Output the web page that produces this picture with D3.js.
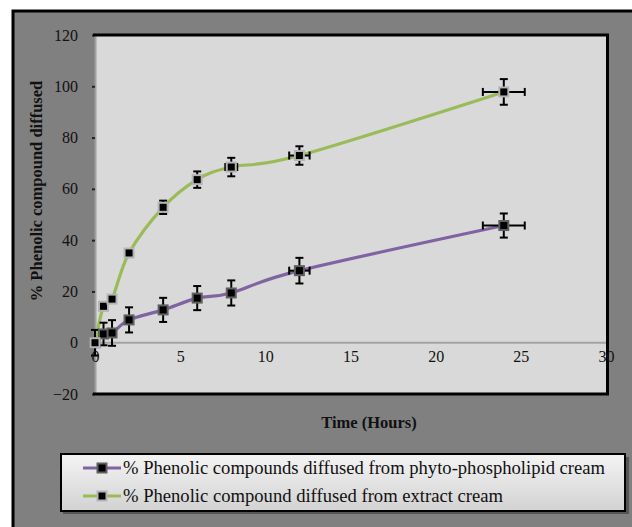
<!DOCTYPE html>
<html><head><meta charset="utf-8">
<script src="https://cdn.jsdelivr.net/npm/d3@7"></script>
<style>
html,body{margin:0;padding:0;background:#fff;}
svg{display:block;}
</style></head>
<body>
<script>
// ---- data ----
const hours = [0, 0.5, 1, 2, 4, 6, 8, 12, 24];
const phytoValues = [0, 3.4, 3.8, 8.9, 12.8, 17.4, 19.4, 28.1, 45.7];
const phytoErrY   = [5, 4.4, 5, 4.9, 4.7, 4.7, 4.9, 5, 4.7];
const phytoErrX   = [0, 0, 0, 0, 0, 0, 0, 0.6, 1.23];
const extractValues = [0, 14.2, 17.0, 35.0, 52.8, 63.6, 68.5, 73.0, 97.8];
const extractErrY   = [0, 0, 0, 0, 2.6, 3.2, 3.6, 3.6, 5];
const extractErrX   = [0, 0, 0, 0, 0, 0, 0.35, 0.6, 1.23];
const seriesNames = ["% Phenolic compounds diffused from phyto-phospholipid cream",
                     "% Phenolic compound diffused from extract cream"];
const xTicks = [0, 5, 10, 15, 20, 25, 30];
const yTicks = [-20, 0, 20, 40, 60, 80, 100, 120];
const xTitle = "Time (Hours)";
const yTitle = "% Phenolic compound diffused";

const series = [
  {name: seriesNames[0], values: phytoValues, ey: phytoErrY, ex: phytoErrX, color: "#8064a2", mstroke: "#5f5f5f"},
  {name: seriesNames[1], values: extractValues, ey: extractErrY, ex: extractErrX, color: "#9bbb59", mstroke: "#b4b4b4"}
];

const FONT = "'Liberation Serif', 'Times New Roman', 'DejaVu Serif', serif";
const W = 632, H = 527;
const svg = d3.select("body").append("svg").attr("width", W).attr("height", H)
  .attr("font-family", FONT);
const defs = svg.append("defs");
const lg = defs.append("linearGradient").attr("id","legGrad").attr("x1",0).attr("y1",0).attr("x2",0).attr("y2",1);
lg.append("stop").attr("offset","0%").attr("stop-color","#f4f4f4");
lg.append("stop").attr("offset","100%").attr("stop-color","#d2d2d2");

// outer frame
svg.append("rect").attr("x",13).attr("y",11).attr("width",W+20).attr("height",H+20)
  .attr("fill","#808080").attr("stroke","#000").attr("stroke-width",3);

const x = d3.scaleLinear().domain([0,30]).range([95,606]);
const y = d3.scaleLinear().domain([-20,120]).range([394,35]);

// plot area
svg.append("rect").attr("x",x(0)).attr("y",y(120)).attr("width",x(30)-x(0)).attr("height",y(-20)-y(120))
  .attr("fill","#d9d9d9");

// y axis
const yAx = svg.append("g").attr("transform",`translate(${x(0)},0)`)
  .call(d3.axisLeft(y).tickValues(yTicks).tickSize(3).tickPadding(14).tickFormat(d3.format("d")));
yAx.select(".domain").attr("stroke","#a0a0a0").attr("stroke-width",2);
yAx.selectAll(".tick line").attr("stroke","#222").attr("stroke-width",2);
yAx.selectAll(".tick text").attr("font-size",16).attr("fill","#111");

// zero line
svg.append("line").attr("x1",x(0)).attr("x2",x(30)).attr("y1",y(0)).attr("y2",y(0))
  .attr("stroke","#a3a3a3").attr("stroke-width",2);

// plot border (top, right, bottom)
svg.append("path")
  .attr("d",`M${x(0)-2},${y(120)}H${x(30)+1.5}V${y(-20)}H${x(0)-2}`)
  .attr("fill","none").attr("stroke","#000").attr("stroke-width",3);

// lines
const line = d3.line().x(d=>x(d[0])).y(d=>y(d[1])).curve(d3.curveCardinal.tension(0));
series.forEach(s=>{
  const pts = hours.map((h,i)=>[h, s.values[i]]);
  svg.append("path").datum(pts).attr("d",line).attr("fill","none")
    .attr("stroke",s.color).attr("stroke-width",3.2);
});

// error bars + markers
series.forEach(s=>{
  const g = svg.append("g");
  hours.forEach((h,i)=>{
    const cx = x(h), cy = y(s.values[i]);
    const eb = g.append("g").attr("stroke","#000").attr("stroke-width",2).attr("fill","none");
    if (s.ey[i] > 0) {
      const y1 = y(s.values[i]+s.ey[i]), y2 = y(s.values[i]-s.ey[i]);
      eb.append("line").attr("x1",cx).attr("x2",cx).attr("y1",y1).attr("y2",y2);
      eb.append("line").attr("x1",cx-4).attr("x2",cx+4).attr("y1",y1).attr("y2",y1);
      eb.append("line").attr("x1",cx-4).attr("x2",cx+4).attr("y1",y2).attr("y2",y2);
    }
    if (s.ex[i] > 0) {
      const x1 = x(h-s.ex[i]), x2 = x(h+s.ex[i]);
      eb.append("line").attr("x1",x1).attr("x2",x2).attr("y1",cy).attr("y2",cy);
      eb.append("line").attr("x1",x1).attr("x2",x1).attr("y1",cy-4).attr("y2",cy+4);
      eb.append("line").attr("x1",x2).attr("x2",x2).attr("y1",cy-4).attr("y2",cy+4);
    }
    g.append("rect").attr("x",cx-4.5).attr("y",cy-4.5).attr("width",9).attr("height",9)
      .attr("fill","#000").attr("stroke",s.mstroke).attr("stroke-width",2);
  });
});

// x axis labels
const xAx = svg.append("g").attr("transform",`translate(0,${y(0)})`)
  .call(d3.axisBottom(x).tickValues(xTicks).tickSize(0).tickPadding(8).tickFormat(d3.format("d")));
xAx.select(".domain").remove();
xAx.selectAll(".tick text").attr("font-size",16).attr("fill","#111");

// titles
svg.append("text").attr("x",369).attr("y",428).attr("text-anchor","middle")
  .attr("font-size",16.5).attr("font-weight","bold").attr("fill","#111").text(xTitle);
svg.append("text").attr("transform","translate(42,191) rotate(-90)").attr("text-anchor","middle")
  .attr("font-size",16.5).attr("font-weight","bold").attr("fill","#111").text(yTitle);

// legend
svg.append("rect").attr("x",63).attr("y",457).attr("width",566).attr("height",57).attr("fill","#555");
svg.append("rect").attr("x",61).attr("y",454).attr("width",564).attr("height",57)
  .attr("fill","url(#legGrad)").attr("stroke","#000").attr("stroke-width",2);
const rowsY = [468, 496];
const textW = [482, 380];
series.forEach((s,i)=>{
  const ly = rowsY[i];
  svg.append("line").attr("x1",83).attr("x2",121).attr("y1",ly).attr("y2",ly)
    .attr("stroke",s.color).attr("stroke-width",3.2);
  svg.append("rect").attr("x",97.5).attr("y",ly-4.5).attr("width",9).attr("height",9)
    .attr("fill","#000").attr("stroke",s.mstroke).attr("stroke-width",2);
  svg.append("text").attr("x",123).attr("y",ly+6).attr("font-size",18).attr("fill","#111")
    .attr("textLength",textW[i]).attr("lengthAdjust","spacingAndGlyphs").text(s.name);
});

svg.selectAll("text").style("font-family", FONT);
</script>
</body></html>
